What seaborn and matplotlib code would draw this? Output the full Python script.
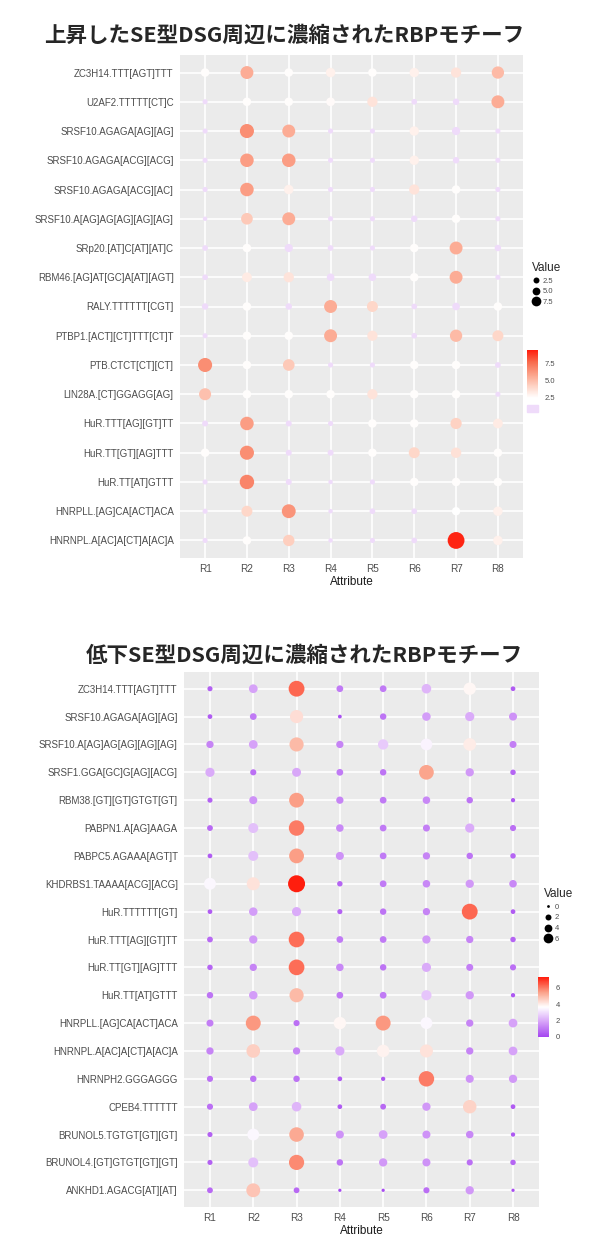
import pandas as pd
import matplotlib
matplotlib.use('Agg')
import matplotlib.pyplot as plt
import seaborn as sns
from matplotlib.colors import LinearSegmentedColormap, Normalize
from matplotlib.lines import Line2D
from matplotlib.patches import Rectangle
from matplotlib.cm import ScalarMappable

# ---------------- data ----------------
attributes = ['R1', 'R2', 'R3', 'R4', 'R5', 'R6', 'R7', 'R8']

up_title = '上昇したSE型DSG周辺に濃縮されたRBPモチーフ'
up_motifs = [
    'ZC3H14.TTT[AGT]TTT', 'U2AF2.TTTTT[CT]C', 'SRSF10.AGAGA[AG][AG]',
    'SRSF10.AGAGA[ACG][ACG]', 'SRSF10.AGAGA[ACG][AC]', 'SRSF10.A[AG]AG[AG][AG][AG]',
    'SRp20.[AT]C[AT][AT]C', 'RBM46.[AG]AT[GC]A[AT][AGT]', 'RALY.TTTTTT[CGT]',
    'PTBP1.[ACT][CT]TTT[CT]T', 'PTB.CTCT[CT][CT]', 'LIN28A.[CT]GGAGG[AG]',
    'HuR.TTT[AG][GT]TT', 'HuR.TT[GT][AG]TTT', 'HuR.TT[AT]GTTT',
    'HNRPLL.[AG]CA[ACT]ACA', 'HNRNPL.A[AC]A[CT]A[AC]A',
]
up_values = [
    [2.5, 5.5, 2.5, 3.0, 2.5, 3.0, 3.5, 5.0],
    [1.0, 2.5, 2.5, 2.6, 3.5, 1.2, 1.5, 5.5],
    [1.0, 6.5, 5.5, 1.0, 1.0, 3.0, 2.3, 1.0],
    [1.0, 6.0, 6.0, 1.0, 1.0, 3.0, 1.5, 1.0],
    [1.0, 6.0, 3.0, 1.0, 1.0, 3.5, 2.5, 1.0],
    [0.8, 4.5, 5.5, 1.0, 1.0, 1.5, 2.5, 1.0],
    [1.2, 2.5, 2.3, 1.2, 1.0, 2.5, 5.5, 1.5],
    [1.2, 3.2, 3.5, 2.0, 2.0, 2.5, 5.5, 1.0],
    [1.5, 2.5, 1.5, 5.5, 4.0, 1.2, 2.0, 2.5],
    [1.0, 2.5, 2.5, 5.5, 3.5, 1.2, 5.0, 4.0],
    [6.5, 2.5, 4.5, 1.0, 1.0, 2.5, 2.5, 1.2],
    [4.8, 2.5, 2.5, 2.5, 3.5, 2.5, 2.5, 1.0],
    [1.3, 6.0, 1.3, 1.0, 2.5, 2.5, 4.2, 3.2],
    [2.5, 6.5, 1.3, 1.3, 2.5, 4.0, 3.6, 2.5],
    [1.0, 6.8, 1.3, 0.8, 1.0, 2.5, 2.5, 2.5],
    [1.0, 4.0, 6.3, 0.8, 1.2, 1.2, 2.4, 3.0],
    [1.0, 2.5, 4.3, 0.8, 1.0, 1.2, 9.2, 3.0],
]

down_title = '低下SE型DSG周辺に濃縮されたRBPモチーフ'
down_motifs = [
    'ZC3H14.TTT[AGT]TTT', 'SRSF10.AGAGA[AG][AG]', 'SRSF10.A[AG]AG[AG][AG][AG]',
    'SRSF1.GGA[GC]G[AG][ACG]', 'RBM38.[GT][GT]GTGT[GT]', 'PABPN1.A[AG]AAGA',
    'PABPC5.AGAAA[AGT]T', 'KHDRBS1.TAAAA[ACG][ACG]', 'HuR.TTTTTT[GT]',
    'HuR.TTT[AG][GT]TT', 'HuR.TT[GT][AG]TTT', 'HuR.TT[AT]GTTT',
    'HNRPLL.[AG]CA[ACT]ACA', 'HNRNPL.A[AC]A[CT]A[AC]A', 'HNRNPH2.GGGAGGG',
    'CPEB4.TTTTTT', 'BRUNOL5.TGTGT[GT][GT]', 'BRUNOL4.[GT]GTGT[GT][GT]',
    'ANKHD1.AGACG[AT][AT]',
]
down_values = [
    [0.5, 1.8, 6.3, 1.0, 1.0, 2.2, 3.8, 0.4],
    [0.4, 1.0, 4.3, 0.2, 0.9, 1.7, 2.0, 1.5],
    [1.2, 1.8, 5.0, 1.2, 2.6, 3.4, 4.0, 1.1],
    [2.0, 0.8, 1.9, 1.0, 0.9, 5.4, 1.6, 0.6],
    [0.5, 1.5, 5.5, 1.2, 1.0, 1.3, 0.9, 0.3],
    [0.7, 2.4, 6.0, 1.3, 1.0, 1.1, 2.0, 0.8],
    [0.4, 2.4, 5.5, 1.5, 1.0, 1.2, 0.9, 0.6],
    [3.5, 4.2, 7.3, 0.6, 1.0, 1.3, 1.6, 1.3],
    [0.4, 1.7, 2.0, 0.5, 0.9, 1.2, 6.3, 0.4],
    [0.7, 1.6, 6.2, 1.0, 1.0, 1.6, 1.2, 0.6],
    [0.6, 1.2, 6.2, 1.3, 0.9, 2.0, 1.1, 0.8],
    [0.9, 1.7, 5.0, 1.0, 1.0, 2.5, 1.6, 0.3],
    [1.1, 5.6, 0.8, 3.8, 5.6, 3.5, 1.2, 1.8],
    [1.2, 4.6, 1.2, 2.0, 3.9, 4.2, 1.2, 1.8],
    [0.8, 0.9, 0.9, 0.4, 0.3, 6.0, 1.5, 1.6],
    [0.8, 1.8, 2.2, 0.4, 0.7, 1.6, 4.5, 0.4],
    [0.5, 3.5, 5.3, 1.5, 1.8, 1.5, 1.3, 0.3],
    [0.5, 2.4, 5.8, 0.9, 1.6, 1.5, 0.8, 0.6],
    [0.7, 4.8, 0.7, 0.1, 0.1, 0.8, 1.6, 0.1],
]


def to_long(motifs, values):
    df = pd.DataFrame(values, index=motifs, columns=attributes)
    df = df.reset_index().melt(id_vars='index', var_name='Attribute', value_name='Value')
    return df.rename(columns={'index': 'Motif'})


up_df = to_long(up_motifs, up_values)
down_df = to_long(down_motifs, down_values)

# ---------------- style ----------------
sns.set_theme(style='darkgrid')
plt.rcParams['font.family'] = ['Liberation Sans', 'DejaVu Sans']
plt.rcParams['axes.facecolor'] = '#ebebeb'
plt.rcParams['grid.color'] = 'white'

W, H = 600, 1240
fig = plt.figure(figsize=(6, 12.4), dpi=100)

# colour scales (white in the middle, red on top)
up_cmap = LinearSegmentedColormap.from_list(
    'up', ['#ffffff', '#fed3c4', '#fba087', '#f86a4c', '#ff1c0c'])
up_cmap.set_under('#efdbfa')
up_norm = Normalize(2.4, 9.4)

down_cmap = LinearSegmentedColormap.from_list(
    'down', ['#a445f0', '#d6a2f8', '#ffffff', '#fba087', '#ff1c0c'])
down_norm = Normalize(-0.05, 7.35)


def px_box(left, top, right, bottom):
    return [left / W, 1 - bottom / H, (right - left) / W, (bottom - top) / H]


def draw_panel(ax, df, cmap, norm, sizes, size_norm, n_rows):
    sns.scatterplot(data=df, x='Attribute', y='Motif', hue='Value', size='Value',
                    palette=cmap, hue_norm=norm, sizes=sizes, size_norm=size_norm,
                    linewidth=0, legend=False, ax=ax, zorder=3)
    ax.set_xlim(-0.6, len(attributes) - 0.4)
    ax.set_ylim(n_rows - 0.4, -0.6)
    ax.grid(True, color='white', linewidth=1.2)
    for s in ax.spines.values():
        s.set_visible(False)
    ax.tick_params(axis='both', length=2.5, width=0.8, color='#333333',
                   labelcolor='#4d4d4d', labelsize=7, pad=2)
    ax.tick_params(axis='x', labelsize=7.2)
    ax.set_ylabel('')
    ax.set_xlabel('Attribute', fontsize=8.5, color='#1a1a1a', labelpad=1)


# ---------------- top panel ----------------
ax1 = fig.add_axes(px_box(180, 55, 523, 558))
draw_panel(ax1, up_df, up_cmap, up_norm, (7, 150), (0.6, 9.4), len(up_motifs))
fig.text(0.473, 1 - 35 / H, up_title, ha='center', va='center', fontsize=15.5,
         fontweight='bold', family=['Noto Sans CJK JP', 'DejaVu Sans'])

# ---------------- bottom panel ----------------
ax2 = fig.add_axes(px_box(184, 672, 539, 1207))
draw_panel(ax2, down_df, down_cmap, down_norm, (3.5, 152), (0.0, 7.4), len(down_motifs))
fig.text(0.508, 1 - 655 / H, down_title, ha='center', va='center', fontsize=15.5,
         fontweight='bold', family=['Noto Sans CJK JP', 'DejaVu Sans'])


# ---------------- legends ----------------
def size_legend(labels, msizes, x, y):
    handles = [Line2D([], [], marker='o', linestyle='', color='black',
                      markersize=m, markeredgewidth=0) for m in msizes]
    leg = fig.legend(handles, labels, title='Value', loc='upper left',
                     bbox_to_anchor=(x / W, 1 - y / H), frameon=False,
                     fontsize=5.5, title_fontsize=8.5, handletextpad=0.4,
                     labelspacing=0.45, handlelength=1.0, borderpad=0)
    leg._legend_box.align = 'left'
    for t in leg.get_texts():
        t.set_color('#4d4d4d')
    return leg


size_legend(['2.5', '5.0', '7.5'], [4.3, 5.6, 7.0], 528, 258)
size_legend(['0', '2', '4', '6'], [2.0, 4.3, 5.6, 7.0], 540, 884)


def colour_bar(cmap, norm, ticks, labels, box):
    cax = fig.add_axes(box)
    cb = fig.colorbar(ScalarMappable(norm=norm, cmap=cmap), cax=cax, ticks=ticks)
    cb.outline.set_visible(False)
    cb.ax.set_yticklabels(labels)
    cax.tick_params(length=2.5, width=0.6, color='white', direction='in',
                    labelsize=5.5, labelcolor='#4d4d4d', pad=5)
    cax.grid(False)
    return cb


colour_bar(up_cmap, up_norm, [2.5, 5.0, 7.5], ['2.5', '5.0', '7.5'],
           px_box(527, 350, 538, 398))
fig.patches.append(Rectangle((527 / W, 1 - 412 / H), 11 / W, 7 / H,
                             transform=fig.transFigure, color='#efdbfa'))
colour_bar(down_cmap, down_norm, [0, 2, 4, 6], ['0', '2', '4', '6'],
           px_box(538, 977, 549, 1037))

fig.savefig('out.png', dpi=100)
